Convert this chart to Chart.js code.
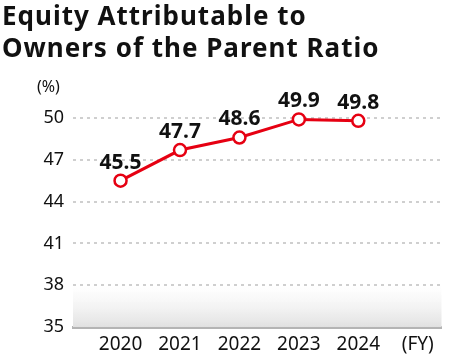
<!DOCTYPE html>
<html>
<head>
<meta charset="utf-8">
<script src="https://cdn.jsdelivr.net/npm/chart.js@4"></script>
<style>
  body { margin: 0; background: #fff; }
  #wrap { position: relative; width: 450px; height: 358px; }
  #title {
    position: absolute; left: 2px; top: -1px;
    font: bold 26px "Noto Sans", sans-serif; letter-spacing: 1px;
    line-height: 32px; color: #111;
  }
  #unit {
    position: absolute; left: 37px; top: 75px;
    font: 16px "Noto Sans", sans-serif; color: #111;
  }
  canvas { position: absolute; left: 0; top: 0; }
</style>
</head>
<body>
<div id="wrap">
  <canvas id="ratioChart" width="450" height="358"></canvas>
  <div id="title">Equity Attributable to<br>Owners of the Parent Ratio</div>
  <div id="unit">(%)</div>
</div>
<script>
  const years = ['2020', '2021', '2022', '2023', '2024', '(FY)'];
  const ratio = [45.5, 47.7, 48.6, 49.9, 49.8];
  const yTicks = [35, 38, 41, 44, 47, 50];

  const red = '#e60012';

  // light grey band between the two lowest ticks
  const bottomBand = {
    id: 'bottomBand',
    beforeDatasetsDraw(chart) {
      const { ctx, chartArea, scales } = chart;
      const top = scales.y.getPixelForValue(38);
      const bottom = scales.y.getPixelForValue(35);
      const g = ctx.createLinearGradient(0, top, 0, bottom);
      g.addColorStop(0, 'rgba(240,240,240,0)');
      g.addColorStop(1, 'rgba(225,225,225,1)');
      ctx.save();
      ctx.fillStyle = g;
      ctx.fillRect(chartArea.left, top, chartArea.right - chartArea.left, bottom - top);
      ctx.restore();
    }
  };

  const valueLabels = {
    id: 'valueLabels',
    afterDatasetsDraw(chart) {
      const { ctx } = chart;
      const meta = chart.getDatasetMeta(0);
      ctx.save();
      ctx.font = 'bold 21px "Noto Sans", sans-serif';
      ctx.fillStyle = '#111';
      ctx.textAlign = 'center';
      ctx.textBaseline = 'middle';
      meta.data.forEach((pt, i) => {
        ctx.fillText(ratio[i].toFixed(1), pt.x, pt.y - 18);
      });
      ctx.restore();
    }
  };

  new Chart(document.getElementById('ratioChart'), {
    type: 'line',
    data: {
      datasets: [{
        data: ratio.map((v, i) => ({ x: i, y: v })),
        borderColor: red,
        borderWidth: 3,
        pointRadius: 6,
        pointBorderWidth: 2.5,
        pointBackgroundColor: '#fff',
        pointBorderColor: red,
        tension: 0,
        clip: false
      }]
    },
    options: {
      responsive: false,
      animation: false,
      layout: { padding: { top: 118, right: 3, left: 0, bottom: 0 } },
      plugins: { legend: { display: false }, tooltip: { enabled: false } },
      scales: {
        x: {
          type: 'linear',
          min: -0.8,
          max: 5.4,
          afterBuildTicks: s => { s.ticks = years.map((y, i) => ({ value: i })); },
          afterFit: s => { s.height = 31; },
          grid: { display: false, drawTicks: false },
          border: { display: true, color: '#b4b4b4', width: 3 },
          ticks: {
            padding: 6,
            maxRotation: 0,
            autoSkip: false,
            color: '#111',
            font: { family: 'Noto Sans', size: 19 },
            callback: v => years[v]
          }
        },
        y: {
          min: 35,
          max: 50,
          afterBuildTicks: s => { s.ticks = yTicks.map(v => ({ value: v })); },
          afterFit: s => { s.width = 73; },
          grid: {
            drawTicks: false,
            color: c => c.tick && c.tick.value === 35 ? 'rgba(0,0,0,0)' : '#cfcfcf',
            lineWidth: 2
          },
          border: { display: false, dash: [3, 4] },
          ticks: {
            padding: 9,
            color: '#111',
            font: { family: 'Noto Sans', size: 18 }
          }
        }
      }
    },
    plugins: [bottomBand, valueLabels]
  });
</script>
</body>
</html>
